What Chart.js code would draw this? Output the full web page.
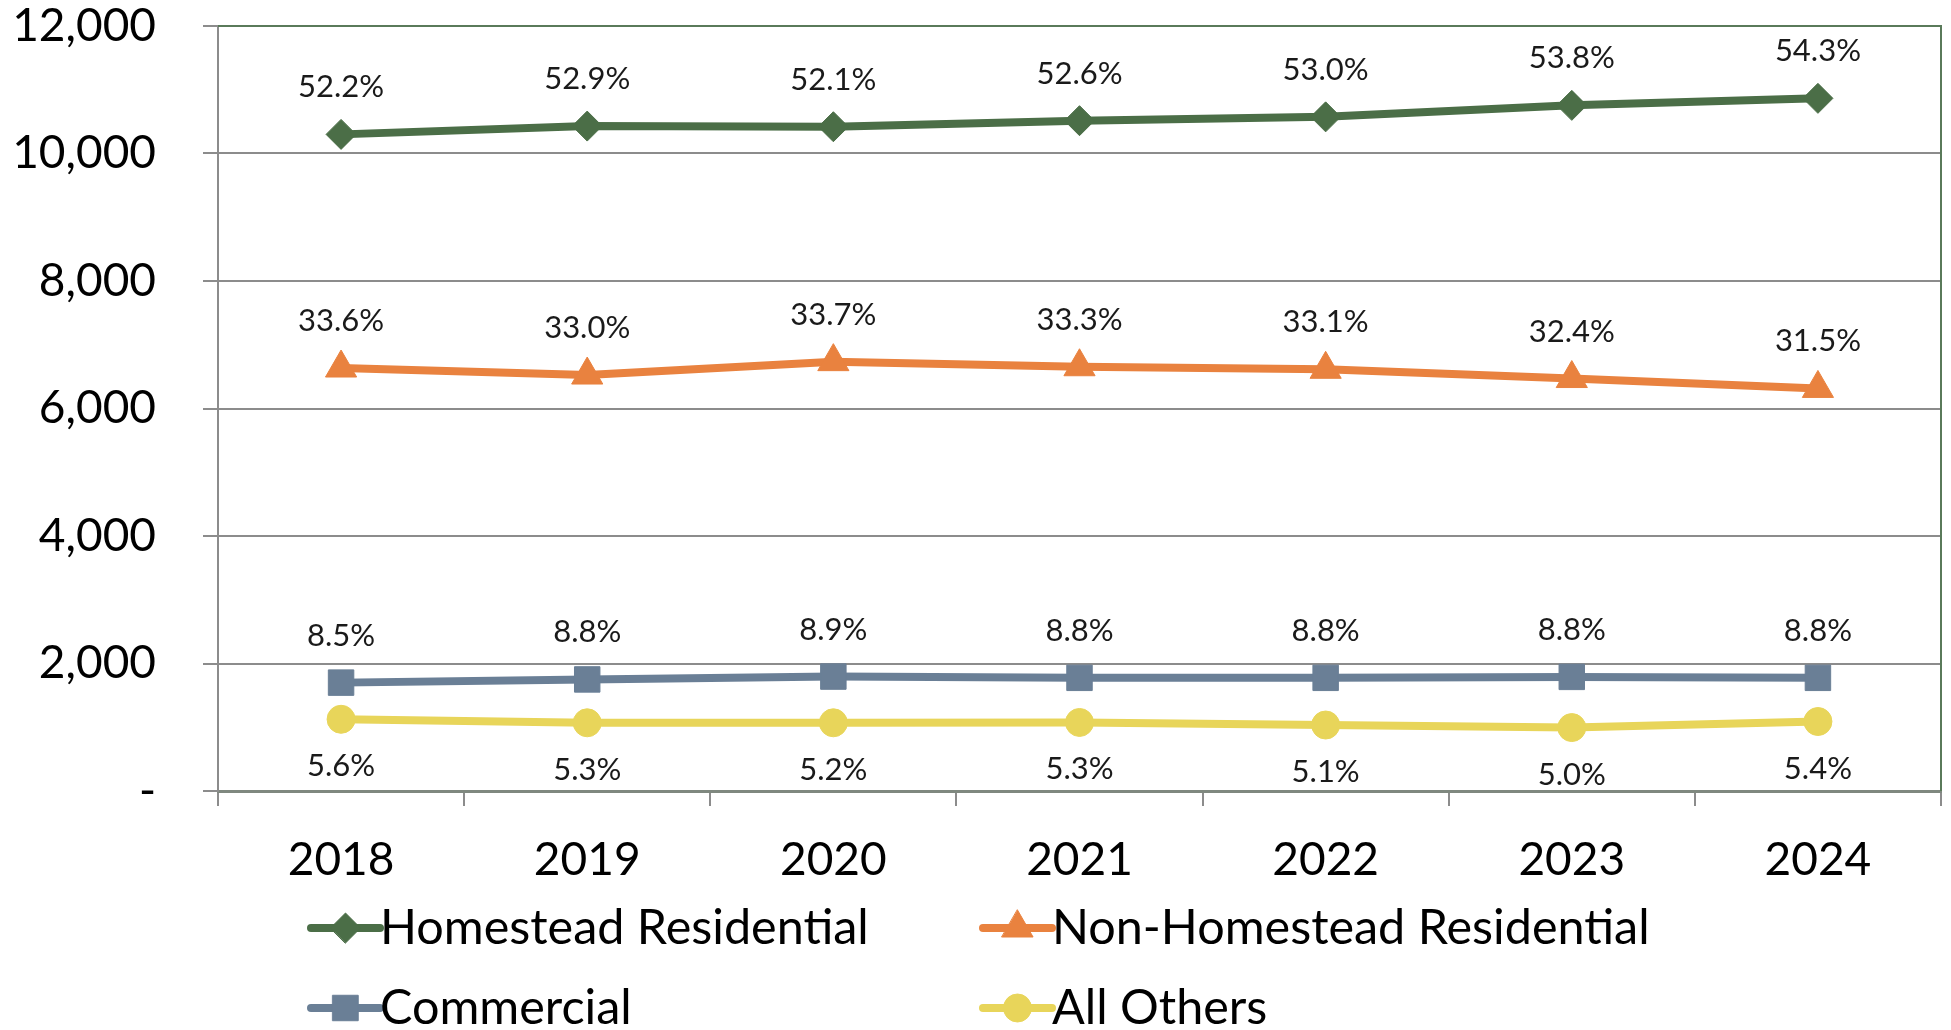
<!DOCTYPE html>
<html>
<head>
<meta charset="utf-8">
<script src="https://cdn.jsdelivr.net/npm/chart.js@4.4.1/dist/chart.umd.min.js"></script>
<style>
  body { margin: 0; background: #fff; }
  #wrap { width: 1951px; height: 1030px; }
</style>
</head>
<body>
<div id="wrap"><canvas id="grafico" width="1951" height="1030"></canvas></div>
<script>
// datos
const anios = ['2018', '2019', '2020', '2021', '2022', '2023', '2024'];
const homestead = [10300, 10430, 10420, 10515, 10575, 10755, 10865];
const nonHomestead = [6635, 6525, 6735, 6655, 6615, 6470, 6315];
const comercial = [1700, 1750, 1795, 1775, 1775, 1790, 1775];
const otros = [1125, 1070, 1070, 1075, 1035, 995, 1090];

const homesteadPct = ['52.2%', '52.9%', '52.1%', '52.6%', '53.0%', '53.8%', '54.3%'];
const nonHomesteadPct = ['33.6%', '33.0%', '33.7%', '33.3%', '33.1%', '32.4%', '31.5%'];
const comercialPct = ['8.5%', '8.8%', '8.9%', '8.8%', '8.8%', '8.8%', '8.8%'];
const otrosPct = ['5.6%', '5.3%', '5.2%', '5.3%', '5.1%', '5.0%', '5.4%'];

const etiquetasY = ['-', '2,000', '4,000', '6,000', '8,000', '10,000', '12,000'];

const fuente = 'Lato, "Liberation Sans", sans-serif';

// etiquetas de porcentaje sobre / bajo cada punto
const etiquetasPlugin = {
    id: 'etiquetas',
    afterDatasetsDraw(chart) {
        const ctx = chart.ctx;
        ctx.save();
        ctx.font = '31px ' + fuente;
        ctx.fillStyle = '#1a1a1a';
        ctx.textAlign = 'center';
        ctx.textBaseline = 'middle';
        chart.data.datasets.forEach((ds, i) => {
            const meta = chart.getDatasetMeta(i);
            meta.data.forEach((pt, j) => {
                const dy = ds.etiquetaAbajo ? 47 : -47;
                ctx.fillText(ds.pct[j], pt.x, pt.y + dy);
            });
        });
        ctx.restore();
    }
};

// borde superior y derecho del área del gráfico
const bordePlugin = {
    id: 'borde',
    beforeDatasetsDraw(chart) {
        const { ctx, chartArea: a } = chart;
        ctx.save();
        ctx.strokeStyle = '#5a7a5a';
        ctx.lineWidth = 2;
        ctx.beginPath();
        ctx.moveTo(a.left, a.top);
        ctx.lineTo(a.right, a.top);
        ctx.lineTo(a.right, a.bottom);
        ctx.stroke();
        ctx.restore();
    }
};

// leyenda dibujada a mano (línea + marcador)
const posLeyenda = [
    { x: 311, y: 928 },
    { x: 983, y: 928 },
    { x: 311, y: 1008 },
    { x: 983, y: 1008 }
];
const leyendaPlugin = {
    id: 'leyendaManual',
    afterDraw(chart) {
        const ctx = chart.ctx;
        ctx.save();
        chart.data.datasets.forEach((ds, i) => {
            const p = posLeyenda[i];
            ctx.strokeStyle = ds.borderColor;
            ctx.lineWidth = 8;
            ctx.lineCap = 'round';
            ctx.beginPath();
            ctx.moveTo(p.x, p.y);
            ctx.lineTo(p.x + 69, p.y);
            ctx.stroke();
            ctx.fillStyle = ds.borderColor;
            ctx.lineWidth = 1;
            Chart.helpers.drawPoint(ctx, {
                pointStyle: ds.pointStyle,
                radius: ds.pointRadius,
                rotation: 0,
                borderWidth: 1
            }, p.x + 34.5, p.y);
            ctx.fillStyle = '#000';
            ctx.font = '48.5px ' + fuente;
            ctx.textAlign = 'left';
            ctx.textBaseline = 'middle';
            ctx.fillText(ds.label, p.x + 69, p.y);
        });
        ctx.restore();
    }
};

function serie(label, data, pct, color, estilo, radio, abajo) {
    return {
        label: label,
        data: data,
        pct: pct,
        etiquetaAbajo: abajo,
        borderColor: color,
        backgroundColor: color,
        pointBackgroundColor: color,
        pointBorderColor: color,
        borderWidth: 8,
        pointStyle: estilo,
        pointRadius: radio,
        pointBorderWidth: 1,
        tension: 0,
        fill: false
    };
}

const ctx = document.getElementById('grafico');

new Chart(ctx, {
    type: 'line',
    data: {
        labels: anios,
        datasets: [
            serie('Homestead Residential', homestead, homesteadPct, '#4b6e47', 'rectRot', 15, false),
            serie('Non-Homestead Residential', nonHomestead, nonHomesteadPct, '#e9823f', 'triangle', 18, false),
            serie('Commercial', comercial, comercialPct, '#6a7f96', 'rect', 18, false),
            serie('All Others', otros, otrosPct, '#e8d55a', 'circle', 14, true)
        ]
    },
    options: {
        responsive: false,
        animation: false,
        devicePixelRatio: 1,
        layout: { autoPadding: false, padding: { left: 0, top: 26, right: 10, bottom: 0 } },
        plugins: {
            legend: { display: false },
            tooltip: { enabled: false }
        },
        scales: {
            x: {
                offset: true,
                grid: {
                    offset: true,
                    drawOnChartArea: false,
                    drawTicks: true,
                    tickLength: 15,
                    color: '#8c8c8c',
                    lineWidth: 2
                },
                border: { display: true, color: '#7f887f', width: 3 },
                ticks: {
                    color: '#000',
                    font: { family: fuente, size: 46 },
                    padding: 27,
                    maxRotation: 0
                },
                afterFit(scale) {
                    scale.height = 239;
                    scale.paddingLeft = 0;
                    scale.paddingRight = 0;
                }
            },
            y: {
                min: 0,
                max: 12000,
                grid: {
                    color: '#8c8c8c',
                    lineWidth: 2,
                    tickLength: 15
                },
                border: { display: true, color: '#8c8c8c', width: 2 },
                ticks: {
                    stepSize: 2000,
                    color: '#000',
                    font: { family: fuente, size: 46 },
                    padding: 47,
                    callback: (v, i) => etiquetasY[i]
                },
                afterFit(scale) {
                    scale.width = 218;
                    scale.paddingTop = 0;
                    scale.paddingBottom = 0;
                }
            }
        }
    },
    plugins: [bordePlugin, etiquetasPlugin, leyendaPlugin]
});
</script>
</body>
</html>
